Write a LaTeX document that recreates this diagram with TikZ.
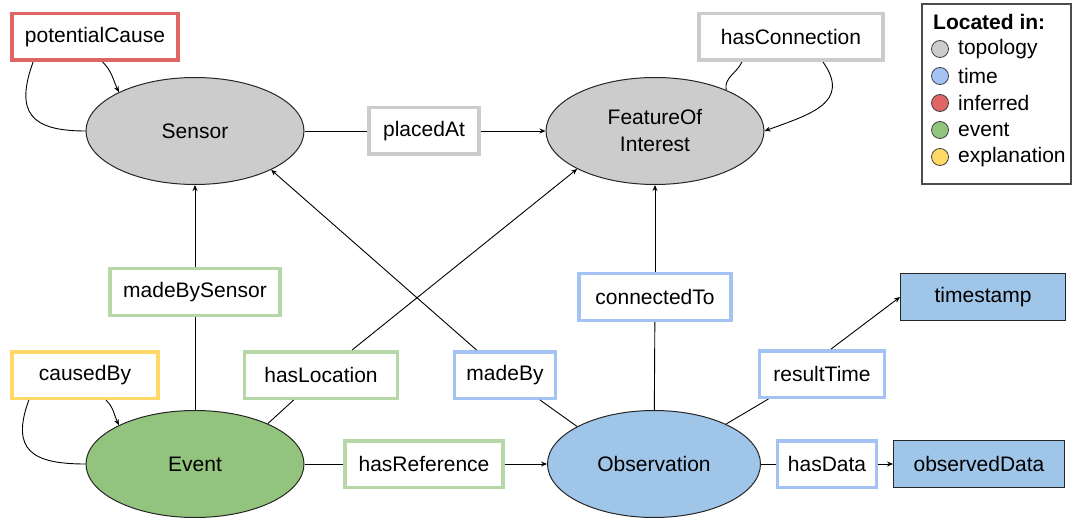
\documentclass[tikz,border=0pt]{standalone}
\usepackage{fontspec}
\setmainfont{Liberation Sans}
\usetikzlibrary{shapes.geometric,arrows.meta}
\definecolor{topoGray}{HTML}{CCCCCC}
\definecolor{timeBlue}{HTML}{A4C2F4}
\definecolor{timeFill}{HTML}{9FC5E8}
\definecolor{inferRed}{HTML}{E06666}
\definecolor{eventGreen}{HTML}{93C47D}
\definecolor{eventBorder}{HTML}{B6D7A8}
\definecolor{explYellow}{HTML}{FFD966}
\tikzset{
concept/.style={ellipse, draw=black!85, line width=1pt, minimum width=218pt, minimum height=107pt, font=\fontsize{21}{27}\selectfont, align=center},
relbox/.style={rectangle, draw=#1, line width=3.5pt, fill=white, minimum height=46.5pt, font=\fontsize{21}{26}\selectfont},
valbox/.style={rectangle, draw=black!85, line width=1pt, fill=timeFill, minimum height=47pt, font=\fontsize{21}{26}\selectfont},
link/.style={line width=0.9pt},
linkto/.style={line width=0.9pt, -{Stealth[length=6pt,width=5pt]}},
legdot/.style={circle, draw=black!75, line width=0.8pt, minimum size=17pt, inner sep=0pt},
legtext/.style={anchor=west, inner sep=0pt, font=\fontsize{21}{26}\selectfont},
legframe/.style={draw=black!70, line width=1.5pt}
}
\begin{document}
\begin{tikzpicture}[x=1pt,y=1pt]
\useasboundingbox (0,0) rectangle (1073,-521);
\node[concept, fill=topoGray] (sen) at (195,-131) {Sensor};
\node[concept, fill=topoGray] (foi) at (655,-131) {FeatureOf\\Interest};
\node[concept, fill=eventGreen] (ev) at (195,-464) {Event};
\node[concept, fill=timeFill, minimum width=213pt] (obs) at (654,-464) {Observation};
\node[relbox=inferRed, minimum width=166pt] (pc) at (95,-37) {potentialCause};
\node[relbox=topoGray, minimum width=184pt] (hc) at (791,-37) {hasConnection};
\node[relbox=topoGray, minimum width=110pt] (pa) at (424,-131) {placedAt};
\node[relbox=eventBorder, minimum width=170pt] (mbs) at (195,-292) {madeBySensor};
\node[relbox=timeBlue, minimum width=152pt] (ct) at (655,-297) {connectedTo};
\node[valbox, minimum width=165pt] (ts) at (983,-297) {timestamp};
\node[relbox=explYellow, minimum width=146pt] (cb) at (85,-375) {causedBy};
\node[relbox=eventBorder, minimum width=153pt] (hl) at (321,-375) {hasLocation};
\node[relbox=timeBlue, minimum width=101pt] (mb) at (505,-375) {madeBy};
\node[relbox=timeBlue, minimum width=125pt] (rt) at (822,-374) {resultTime};
\node[relbox=eventBorder, minimum width=158pt] (hr) at (424,-464) {hasReference};
\node[relbox=timeBlue, minimum width=99pt] (hd) at (827,-464) {hasData};
\node[valbox, minimum width=171pt] (od) at (979,-464) {observedData};
\draw[link] (sen.west) to[out=180, in=-110, looseness=1.6] (pc.202);
\draw[linkto] (pc.-73) to[out=-45, in=115] (sen.153);
\draw[link] (foi.30) to[out=100, in=-115] (hc.207);
\draw[linkto] (hc.-38) to[out=-55, in=20, looseness=1.4] (foi.east);
\draw[link] (ev.west) to[out=180, in=-110, looseness=1.6] (cb.204);
\draw[linkto] (cb.-50) to[out=-45, in=115] (ev.153);
\draw[link] (sen) -- (pa);
\draw[linkto] (pa) -- (foi);
\draw[link] (ev) -- (mbs);
\draw[linkto] (mbs) -- (sen);
\draw[link] (ev.29) -- (hl);
\draw[linkto] (hl) -- (foi.206);
\draw[link] (obs.154) -- (mb);
\draw[linkto] (mb) -- (sen.-27);
\draw[link] (obs) -- (ct);
\draw[linkto] (ct) -- (foi);
\draw[link] (obs.29) -- (rt.-155);
\draw[linkto] (rt.70) -- (ts.west);
\draw[link] (ev) -- (hr);
\draw[linkto] (hr) -- (obs);
\draw[link] (obs) -- (hd);
\draw[linkto] (hd) -- (od);
\draw[legframe] (922,-4) rectangle (1071,-184);
\node[legtext, font=\fontsize{21}{26}\selectfont\bfseries] (lghead) at (933,-22) {Located in:};
\node[legdot, fill=topoGray] (lgd1) at (940,-49) {};
\node[legtext] (lgt1) at (958,-49) {topology};
\node[legdot, fill=timeBlue] (lgd2) at (940,-76) {};
\node[legtext] (lgt2) at (958,-76) {time};
\node[legdot, fill=inferRed] (lgd3) at (940,-103) {};
\node[legtext] (lgt3) at (958,-103) {inferred};
\node[legdot, fill=eventGreen] (lgd4) at (940,-130) {};
\node[legtext] (lgt4) at (958,-130) {event};
\node[legdot, fill=explYellow] (lgd5) at (940,-157) {};
\node[legtext] (lgt5) at (958,-157) {explanation};
\end{tikzpicture}
\end{document}
